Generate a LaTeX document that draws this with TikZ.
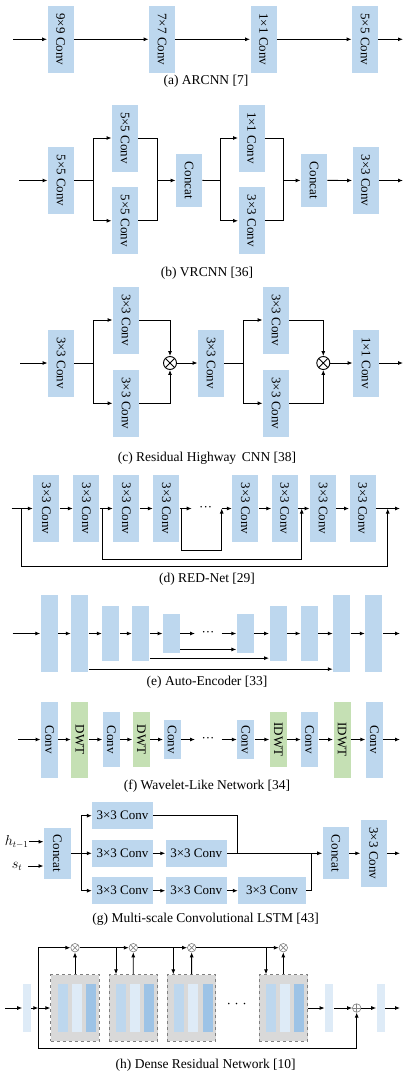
\documentclass[tikz,border=0pt]{standalone}
\usepackage{fontspec}
\setmainfont{Liberation Serif}
\usetikzlibrary{arrows.meta}
\definecolor{convblue}{HTML}{BDD7EE}
\definecolor{dwtgreen}{HTML}{C5E0B4}
\definecolor{paleblue}{HTML}{DEEBF7}
\definecolor{midblue}{HTML}{9DC3E6}
\definecolor{blockgray}{HTML}{D9D9D9}
\newcommand{\convfont}{\fontsize{13}{15}\selectfont}
\newcommand{\capfont}{\fontsize{13.5}{16}\selectfont}
\newcommand{\downtext}[1]{\rotatebox{-90}{#1}}
\tikzset{
  convbox/.style={fill=convblue, inner sep=0pt, minimum width=26pt, minimum height=67pt, font=\convfont},
  catbox/.style={convbox, minimum height=52.5pt},
  thinbox/.style={fill=convblue, inner sep=0pt, minimum width=17pt, font=\convfont},
  dwtbox/.style={thinbox, fill=dwtgreen},
  hbox/.style={fill=convblue, inner sep=0pt, minimum height=26.7pt, font=\convfont},
  subcap/.style={font=\capfont, inner sep=0pt},
  mult/.style={circle, draw, fill=white, inner sep=0pt, minimum size=13pt,
    path picture={\draw[line width=0.8pt] (path picture bounding box.north west) -- (path picture bounding box.south east)
      (path picture bounding box.south west) -- (path picture bounding box.north east);}},
  smallmult/.style={circle, draw=gray, fill=white, line width=0.6pt, inner sep=0pt, minimum size=8.5pt,
    path picture={\draw[gray, line width=0.6pt] (path picture bounding box.north west) -- (path picture bounding box.south east)
      (path picture bounding box.south west) -- (path picture bounding box.north east);}},
  smallplus/.style={circle, draw=gray, fill=white, line width=0.6pt, inner sep=0pt, minimum size=8.5pt,
    path picture={\draw[gray, line width=0.6pt] (path picture bounding box.north) -- (path picture bounding box.south)
      (path picture bounding box.west) -- (path picture bounding box.east);}},
  palebar/.style={fill=paleblue, inner sep=0pt, minimum width=8.3pt, minimum height=47.4pt},
  denseblock/.style={fill=blockgray, draw=gray, dashed, line width=0.7pt, inner sep=0pt, minimum width=48.6pt, minimum height=66.7pt},
  innerbar/.style={inner sep=0pt, minimum width=10pt, minimum height=48.4pt}
}

\begin{document}
\begin{tikzpicture}[x=1pt, y=-1pt, line width=0.9pt, >={Latex[length=5pt,width=4pt]}]
           \useasboundingbox (0,0) rectangle (409,1079);
           % (a)
           \coordinate (ain) at (13,39.3);
           \node[convbox] (a1) at (60.5,39.3) {\downtext{9×9 Conv}};
           \node[convbox] (a2) at (162,39.3) {\downtext{7×7 Conv}};
           \node[convbox] (a3) at (263.5,39.3) {\downtext{1×1 Conv}};
           \node[convbox] (a4) at (365,39.3) {\downtext{5×5 Conv}};
           \coordinate (aout) at (403,39.3);
           \draw[->] (ain) -- (a1);
           \draw[->] (a1) -- (a2);
           \draw[->] (a2) -- (a3);
           \draw[->] (a3) -- (a4);
           \draw[->] (a4) -- (aout);
           \node[subcap] (acap) at (206,81) {(a) ARCNN [7]};
           % (b)
           \coordinate (bin) at (19,180.5);
           \node[convbox] (b1) at (61,180.5) {\downtext{5×5 Conv}};
           \node[convbox] (b2u) at (125,138) {\downtext{5×5 Conv}};
           \node[convbox] (b2d) at (125,220.8) {\downtext{5×5 Conv}};
           \node[catbox] (bcat1) at (189,180.4) {\downtext{Concat}};
           \node[convbox] (b3u) at (251.5,138) {\downtext{1×1 Conv}};
           \node[convbox] (b3d) at (251.5,220.8) {\downtext{3×3 Conv}};
           \node[catbox] (bcat2) at (314,180.4) {\downtext{Concat}};
           \node[convbox] (b4) at (365.5,180.5) {\downtext{3×3 Conv}};
           \coordinate (bout) at (403,180.5);
           \coordinate (bsplit1) at (93.3,180.5);
           \coordinate (bjoin1) at (157.3,180.5);
           \coordinate (bsplit2) at (220,180.5);
           \coordinate (bjoin2) at (283.3,180.5);
           \draw[->] (bin) -- (b1);
           \draw (b1) -- (bsplit1);
           \draw[->] (bsplit1) |- (b2u);
           \draw[->] (bsplit1) |- (b2d);
           \draw (b2u) -| (bjoin1);
           \draw (b2d) -| (bjoin1);
           \draw[->] (bjoin1) -- (bcat1);
           \draw (bcat1) -- (bsplit2);
           \draw[->] (bsplit2) |- (b3u);
           \draw[->] (bsplit2) |- (b3d);
           \draw (b3u) -| (bjoin2);
           \draw (b3d) -| (bjoin2);
           \draw[->] (bjoin2) -- (bcat2);
           \draw[->] (bcat2) -- (b4);
           \draw[->] (b4) -- (bout);
           \node[subcap] (bcap) at (207,273.3) {(b) VRCNN [36]};
           % (c)
           \coordinate (cin) at (20,363);
           \node[convbox] (c1) at (61,363) {\downtext{3×3 Conv}};
           \node[convbox] (c2u) at (126,320) {\downtext{3×3 Conv}};
           \node[convbox] (c2d) at (126,403.3) {\downtext{3×3 Conv}};
           \node[mult] (cx1) at (170,363) {};
           \node[convbox] (c3) at (211,363) {\downtext{3×3 Conv}};
           \node[convbox] (c4u) at (276,320) {\downtext{3×3 Conv}};
           \node[convbox] (c4d) at (276,403.3) {\downtext{3×3 Conv}};
           \node[mult] (cx2) at (323.3,363) {};
           \node[convbox] (c5) at (366,363) {\downtext{1×1 Conv}};
           \coordinate (cout) at (403,363);
           \coordinate (csplit1) at (93.3,363);
           \coordinate (csplit2) at (243.3,363);
           \draw[->] (cin) -- (c1);
           \draw (c1) -- (csplit1);
           \draw[->] (csplit1) |- (c2u);
           \draw[->] (csplit1) |- (c2d);
           \draw[->] (c2u) -| (cx1);
           \draw[->] (c2d) -| (cx1);
           \draw[->] (cx1) -- (c3);
           \draw (c3) -- (csplit2);
           \draw[->] (csplit2) |- (c4u);
           \draw[->] (csplit2) |- (c4d);
           \draw[->] (c4u) -| (cx2);
           \draw[->] (c4d) -| (cx2);
           \draw[->] (cx2) -- (c5);
           \draw[->] (c5) -- (cout);
           \node[subcap] (ccap) at (207,458.3) {(c) Residual Highway\, CNN [38]};
           % (d)
           \coordinate (din) at (11.7,508.5);
           \node[convbox] (d1) at (46.3,508.5) {\downtext{3×3 Conv}};
           \node[convbox] (d2) at (86.3,508.5) {\downtext{3×3 Conv}};
           \node[convbox] (d3) at (126.3,508.5) {\downtext{3×3 Conv}};
           \node[convbox] (d4) at (166.3,508.5) {\downtext{3×3 Conv}};
           \node[convbox] (d5) at (245.3,508.5) {\downtext{3×3 Conv}};
           \node[convbox] (d6) at (284.7,508.5) {\downtext{3×3 Conv}};
           \node[convbox] (d7) at (323,508.5) {\downtext{3×3 Conv}};
           \node[convbox] (d8) at (362.5,508.5) {\downtext{3×3 Conv}};
           \coordinate (dskipA) at (21.7,508.5);
           \coordinate (dskipB) at (102.7,508.5);
           \coordinate (dskipC) at (181.7,508.5);
           \coordinate (ddotL) at (191.7,508.5);
           \node[font=\convfont, inner sep=0pt] (ddots) at (205.7,508.5) {···};
           \coordinate (dendC) at (221.7,508.5);
           \coordinate (dendB) at (301.7,508.5);
           \coordinate (dendA) at (387.7,508.5);
           \coordinate (dout) at (400,508.5);
           \draw[->] (din) -- (d1);
           \draw[->] (d1) -- (d2);
           \draw[->] (d2) -- (d3);
           \draw[->] (d3) -- (d4);
           \draw[->] (d4) -- (ddotL);
           \draw[->] (dendC) -- (d5);
           \draw[->] (d5) -- (d6);
           \draw[->] (d6) -- (d7);
           \draw[->] (d7) -- (d8);
           \draw[->] (d8) -- (dout);
           \draw[->] (dskipC) -- ++(0,41.5) -| (dendC);
           \draw[->] (dskipB) -- ++(0,50.5) -| (dendB);
           \draw[->] (dskipA) -- ++(0,58.2) -| (dendA);
           \node[subcap] (dcap) at (207,579.3) {(d) RED-Net [29]};
           % (e)
           \coordinate (ein) at (12.7,633.5);
           \node[thinbox, minimum height=76.4pt] (e1) at (49.2,633.5) {};
           \node[thinbox, minimum height=76.4pt] (e2) at (79.7,633.5) {};
           \node[thinbox, minimum height=55pt] (e3) at (110.8,633.5) {};
           \node[thinbox, minimum height=55pt] (e4) at (140.8,633.5) {};
           \node[thinbox, minimum height=39pt] (e5) at (171.5,633.5) {};
           \node[thinbox, minimum height=39pt] (e6) at (245.3,633.5) {};
           \node[thinbox, minimum height=55pt] (e7) at (278,633.5) {};
           \node[thinbox, minimum height=55pt] (e8) at (309.5,633.5) {};
           \node[thinbox, minimum height=76.4pt] (e9) at (341.7,633.5) {};
           \node[thinbox, minimum height=76.4pt] (e10) at (373.8,633.5) {};
           \coordinate (edotL) at (195,633.5);
           \node[font=\convfont, inner sep=0pt] (edots) at (208,633.5) {···};
           \coordinate (edotR) at (221.7,633.5);
           \coordinate (eout) at (400,633.5);
           \draw[->] (ein) -- (e1);
           \draw[->] (e1) -- (e2);
           \draw[->] (e2) -- (e3);
           \draw[->] (e3) -- (e4);
           \draw[->] (e4) -- (e5);
           \draw[->] (e5) -- (edotL);
           \draw[->] (edotR) -- (e6);
           \draw[->] (e6) -- (e7);
           \draw[->] (e7) -- (e8);
           \draw[->] (e8) -- (e9);
           \draw[->] (e9) -- (e10);
           \draw[->] (e10) -- (eout);
           \draw[->] ([yshift=4pt]e5.south east) -- ([yshift=4pt]e6.south west);
           \draw[->] ([yshift=3.3pt]e4.south east) -- ([yshift=3.3pt]e7.south west);
           \draw[->] ([yshift=3pt]e2.south east) -- ([yshift=3pt]e9.south west);
           \node[subcap] (ecap) at (207,682.7) {(e) Auto-Encoder [33]};
           % (f)
           \coordinate (fin) at (18.3,739.5);
           \node[thinbox, minimum height=76pt] (f1) at (49.5,739.5) {\downtext{Conv}};
           \node[dwtbox, minimum height=76pt] (f2) at (79.7,739.5) {\downtext{DWT}};
           \node[thinbox, minimum height=54.4pt] (f3) at (111.3,739.5) {\downtext{Conv}};
           \node[dwtbox, minimum height=54.4pt] (f4) at (141.3,739.5) {\downtext{DWT}};
           \node[thinbox, minimum height=39pt] (f5) at (172,739.5) {\downtext{Conv}};
           \node[thinbox, minimum height=39pt] (f6) at (245.8,739.5) {\downtext{Conv}};
           \node[dwtbox, minimum height=54.4pt] (f7) at (278.3,739.5) {\downtext{IDWT}};
           \node[thinbox, minimum height=54.4pt] (f8) at (309.7,739.5) {\downtext{Conv}};
           \node[dwtbox, minimum height=76pt] (f9) at (342,739.5) {\downtext{IDWT}};
           \node[thinbox, minimum height=76pt] (f10) at (374.3,739.5) {\downtext{Conv}};
           \coordinate (fdotL) at (195,739.5);
           \node[font=\convfont, inner sep=0pt] (fdots) at (208,739.5) {···};
           \coordinate (fdotR) at (221.7,739.5);
           \coordinate (fout) at (400,739.5);
           \draw[->] (fin) -- (f1);
           \draw[->] (f1) -- (f2);
           \draw[->] (f2) -- (f3);
           \draw[->] (f3) -- (f4);
           \draw[->] (f4) -- (f5);
           \draw[->] (f5) -- (fdotL);
           \draw[->] (fdotR) -- (f6);
           \draw[->] (f6) -- (f7);
           \draw[->] (f7) -- (f8);
           \draw[->] (f8) -- (f9);
           \draw[->] (f9) -- (f10);
           \draw[->] (f10) -- (fout);
           \node[subcap] (fcap) at (207,785.7) {(f) Wavelet-Like Network [34]};
           % (g)
           \node[catbox, minimum width=26.7pt, minimum height=51.3pt] (gcat1) at (57.3,853.3) {\downtext{Concat}};
           \node[anchor=east, font=\capfont, inner sep=0pt] (gh) at (29,841.7) {$h_{t-1}$};
           \node[font=\capfont, inner sep=0pt] (gs) at (17,866) {$s_t$};
           \coordinate (gsin) at (28.3,866);
           \coordinate (gsplit) at (81.7,853.3);
           \node[hbox, minimum width=60.4pt] (gt1) at (122.5,815.7) {3×3 Conv};
           \node[hbox, minimum width=60.4pt] (gm1) at (122.5,853.3) {3×3 Conv};
           \node[hbox, minimum width=61pt] (gm2) at (196.2,853.3) {3×3 Conv};
           \node[hbox, minimum width=60.4pt] (gb1) at (122.5,890.7) {3×3 Conv};
           \node[hbox, minimum width=61pt] (gb2) at (196.2,890.7) {3×3 Conv};
           \node[hbox, minimum width=67.4pt] (gb3) at (272,890.7) {3×3 Conv};
           \coordinate (gjoin1) at (237.7,853.3);
           \coordinate (gjoin2) at (311.7,853.3);
           \node[catbox, minimum width=26.3pt, minimum height=51.7pt] (gcat2) at (335.8,853.3) {\downtext{Concat}};
           \node[convbox, minimum height=66.7pt] (g5) at (373.7,853.3) {\downtext{3×3 Conv}};
           \coordinate (gout) at (400,853.3);
           \draw[->] (gh) -- (gh -| gcat1.west);
           \draw[->] (gsin) -- (gsin -| gcat1.west);
           \draw (gcat1) -- (gsplit);
           \draw[->] (gsplit) -- (gm1);
           \draw[->] (gsplit) |- (gt1);
           \draw[->] (gsplit) |- (gb1);
           \draw[->] (gm1) -- (gm2);
           \draw[->] (gb1) -- (gb2);
           \draw[->] (gb2) -- (gb3);
           \draw (gt1) -| (gjoin1);
           \draw (gb3) -| (gjoin2);
           \draw[->] (gm2) -- (gcat2);
           \draw[->] (gcat2) -- (g5);
           \draw[->] (g5) -- (gout);
           \node[subcap] (gcap) at (205.7,919) {(g) Multi-scale Convolutional LSTM [43]};
           % (h)
           \coordinate (hin) at (5,1008);
           \node[palebar] (hb1) at (26.8,1008) {};
           \coordinate (hsplit) at (38.3,1008);
           \node[denseblock] (hk1) at (75,1008) {};
           \node[denseblock] (hk2) at (133.2,1008) {};
           \node[denseblock] (hk3) at (191.5,1008) {};
           \node[denseblock] (hk4) at (283.3,1008) {};
           \node[innerbar, fill=convblue] (hk1a) at ([xshift=-12.5pt]hk1.center) {};
           \node[innerbar, fill=paleblue] (hk1b) at ([xshift=1.5pt]hk1.center) {};
           \node[innerbar, fill=midblue] (hk1c) at ([xshift=16pt]hk1.center) {};
           \node[innerbar, fill=convblue] (hk2a) at ([xshift=-12.5pt]hk2.center) {};
           \node[innerbar, fill=paleblue] (hk2b) at ([xshift=1.5pt]hk2.center) {};
           \node[innerbar, fill=midblue] (hk2c) at ([xshift=16pt]hk2.center) {};
           \node[innerbar, fill=convblue] (hk3a) at ([xshift=-12.5pt]hk3.center) {};
           \node[innerbar, fill=paleblue] (hk3b) at ([xshift=1.5pt]hk3.center) {};
           \node[innerbar, fill=midblue] (hk3c) at ([xshift=16pt]hk3.center) {};
           \node[innerbar, fill=convblue] (hk4a) at ([xshift=-12.5pt]hk4.center) {};
           \node[innerbar, fill=paleblue] (hk4b) at ([xshift=1.5pt]hk4.center) {};
           \node[innerbar, fill=midblue] (hk4c) at ([xshift=16pt]hk4.center) {};
           \node[smallmult] (hm1) at (75,947.7) {};
           \node[smallmult] (hm2) at (133.3,947.7) {};
           \node[smallmult] (hm3) at (191.7,947.7) {};
           \node[smallmult] (hm4) at (283.3,947.7) {};
           \coordinate (hd2) at (116,947.7);
           \coordinate (hd3) at (173.3,947.7);
           \coordinate (hd4) at (266,947.7);
           \node[font=\capfont, inner sep=0pt] (hdots) at (236.7,1006) {· · ·};
           \node[palebar] (hb2) at (329.2,1008) {};
           \node[smallplus] (hp) at (356.7,1008) {};
           \node[palebar] (hb3) at (380.8,1008) {};
           \coordinate (hout) at (400,1008);
           \draw[->] (hin) -- (hb1);
           \draw[->] (hb1) -- (hsplit);
           \draw[->] (hsplit) -- (hk1);
           \draw[->] (hsplit) |- (hm1);
           \draw[->] (hm1) -- (hm2);
           \draw[->] (hm2) -- (hm3);
           \draw[->] (hm3) -- (hm4);
           \draw[->] (hk1) -- (hm1);
           \draw[->] (hk2) -- (hm2);
           \draw[->] (hk3) -- (hm3);
           \draw[->] (hk4) -- (hm4);
           \draw[->] (hd2) -- (hd2 |- hk2.north);
           \draw[->] (hd3) -- (hd3 |- hk3.north);
           \draw[->] (hd4) -- (hd4 |- hk4.north);
           \draw[->] (hk4) -- (hb2);
           \draw[->] (hb2) -- (hp);
           \draw[->] (hp) -- (hb3);
           \draw[->] (hb3) -- (hout);
           \draw[->] (hsplit) -- ++(0,40.3) -| (hp);
           \node[subcap] (hcap) at (205.7,1065.7) {(h) Dense Residual Network [10]};
      \end{tikzpicture}
\end{document}
